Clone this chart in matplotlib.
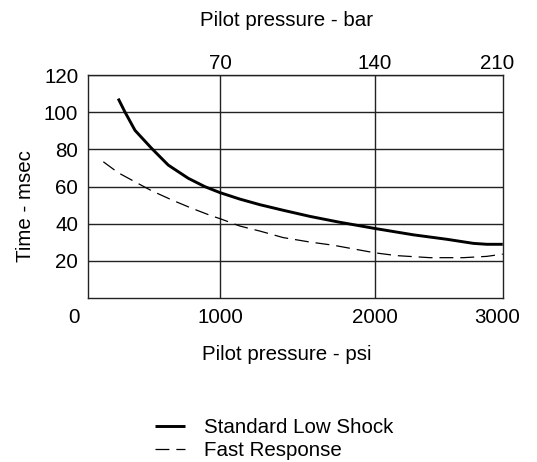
import numpy as np
import matplotlib
matplotlib.use("Agg")
import matplotlib.pyplot as plt

plt.rcParams["font.family"] = ["Liberation Sans", "DejaVu Sans"]
plt.rcParams["lines.scale_dashes"] = False

# curves (psi, msec)
psi_std = [303, 349, 418, 532, 646, 783, 897, 1000, 1129, 1258, 1408, 1581,
           1763, 2000, 2314, 2588, 2806, 2916, 3047]
time_std = [107.3, 100.1, 90.2, 80.5, 71.5, 64.4, 59.9, 56.7, 53.2, 50.2,
            47.2, 43.9, 40.9, 37.4, 34.0, 31.6, 29.4, 28.9, 28.9]

psi_fast = [201, 303, 418, 532, 669, 806, 942, 1000, 1129, 1258, 1408, 1581,
            1731, 2000, 2178, 2451, 2724, 2916, 3047]
time_fast = [73.3, 67.4, 62.5, 57.7, 52.8, 48.3, 44.2, 42.7, 38.7, 36.0,
             32.5, 30.1, 28.4, 24.3, 22.8, 21.7, 21.7, 22.4, 23.6]

psi_ticks = [1000, 2000, 3000]
psi_labels = ["1000", "2000", "3000"]
bar_labels = ["70", "140", "210"]
psi_grid = [1000, 2000]
time_ticks = [20, 40, 60, 80, 100, 120]

# the psi axis in the original drawing is not evenly spaced
scale_psi = [-1000, 0, 1000, 2000, 3000, 4000]
scale_pos = [-146, 0, 146, 301, 423, 545]


def fwd(x):
    return np.interp(x, scale_psi, scale_pos)


def inv(u):
    return np.interp(u, scale_pos, scale_psi)


fig = plt.figure(figsize=(5.37, 4.62), dpi=100)
ax = fig.add_axes([88 / 537, 1 - 298 / 462, 415 / 537, 223 / 462])
ax.set_xscale("function", functions=(fwd, inv))

line_std, = ax.plot(psi_std, time_std, color="black", lw=2.1,
                    solid_capstyle="butt", solid_joinstyle="round")
line_fast, = ax.plot(psi_fast, time_fast, color="black", lw=0.9,
                     dashes=(10, 5))

ax.set_xlim(96, 3049)
ax.set_ylim(0, 120)

fs = 14.8
ax.xaxis.remove_overlapping_locs = False
ax.set_xticks(psi_ticks, psi_labels)
ax.set_xticks(psi_grid, minor=True)
ax.set_yticks(time_ticks)
ax.tick_params(axis="both", which="both", length=0, labelsize=fs)
ax.tick_params(axis="x", pad=7)
ax.tick_params(axis="y", pad=7)
ax.grid(axis="x", which="minor", color="#222222", lw=1.0)
ax.grid(axis="y", which="major", color="#222222", lw=1.0)
for sp in ax.spines.values():
    sp.set_color("#222222")
    sp.set_linewidth(1.0)

# shared origin label
ax.annotate("0", xy=(0, 0), xycoords=("data", "axes fraction"),
            xytext=(0, -7), textcoords="offset points", ha="center",
            va="top", fontsize=fs, annotation_clip=False)

# bar scale on top
ax2 = ax.twiny()
ax2.set_xscale("function", functions=(fwd, inv))
ax2.set_xlim(ax.get_xlim())
ax2.set_xticks(psi_ticks, bar_labels)
ax2.tick_params(axis="x", length=0, labelsize=fs, pad=1.5)
for sp in ax2.spines.values():
    sp.set_visible(False)

fig.text(287 / 537, 1 - 21 / 462, "Pilot pressure - bar", ha="center",
         va="center", fontsize=fs)
fig.text(287 / 537, 1 - 354 / 462, "Pilot pressure - psi", ha="center",
         va="center", fontsize=fs)
fig.text(26 / 537, 1 - 206 / 462, "Time - msec", ha="center", va="center",
         rotation=90, fontsize=fs)

fig.legend([line_std, line_fast], ["Standard Low Shock", "Fast Response"],
           loc="upper left", bbox_to_anchor=(155 / 537, 1 - 418 / 462),
           frameon=False, fontsize=fs, handlelength=1.45,
           handletextpad=0.95, labelspacing=0.2, borderpad=0,
           borderaxespad=0)

fig.savefig("out.png", dpi=100)
